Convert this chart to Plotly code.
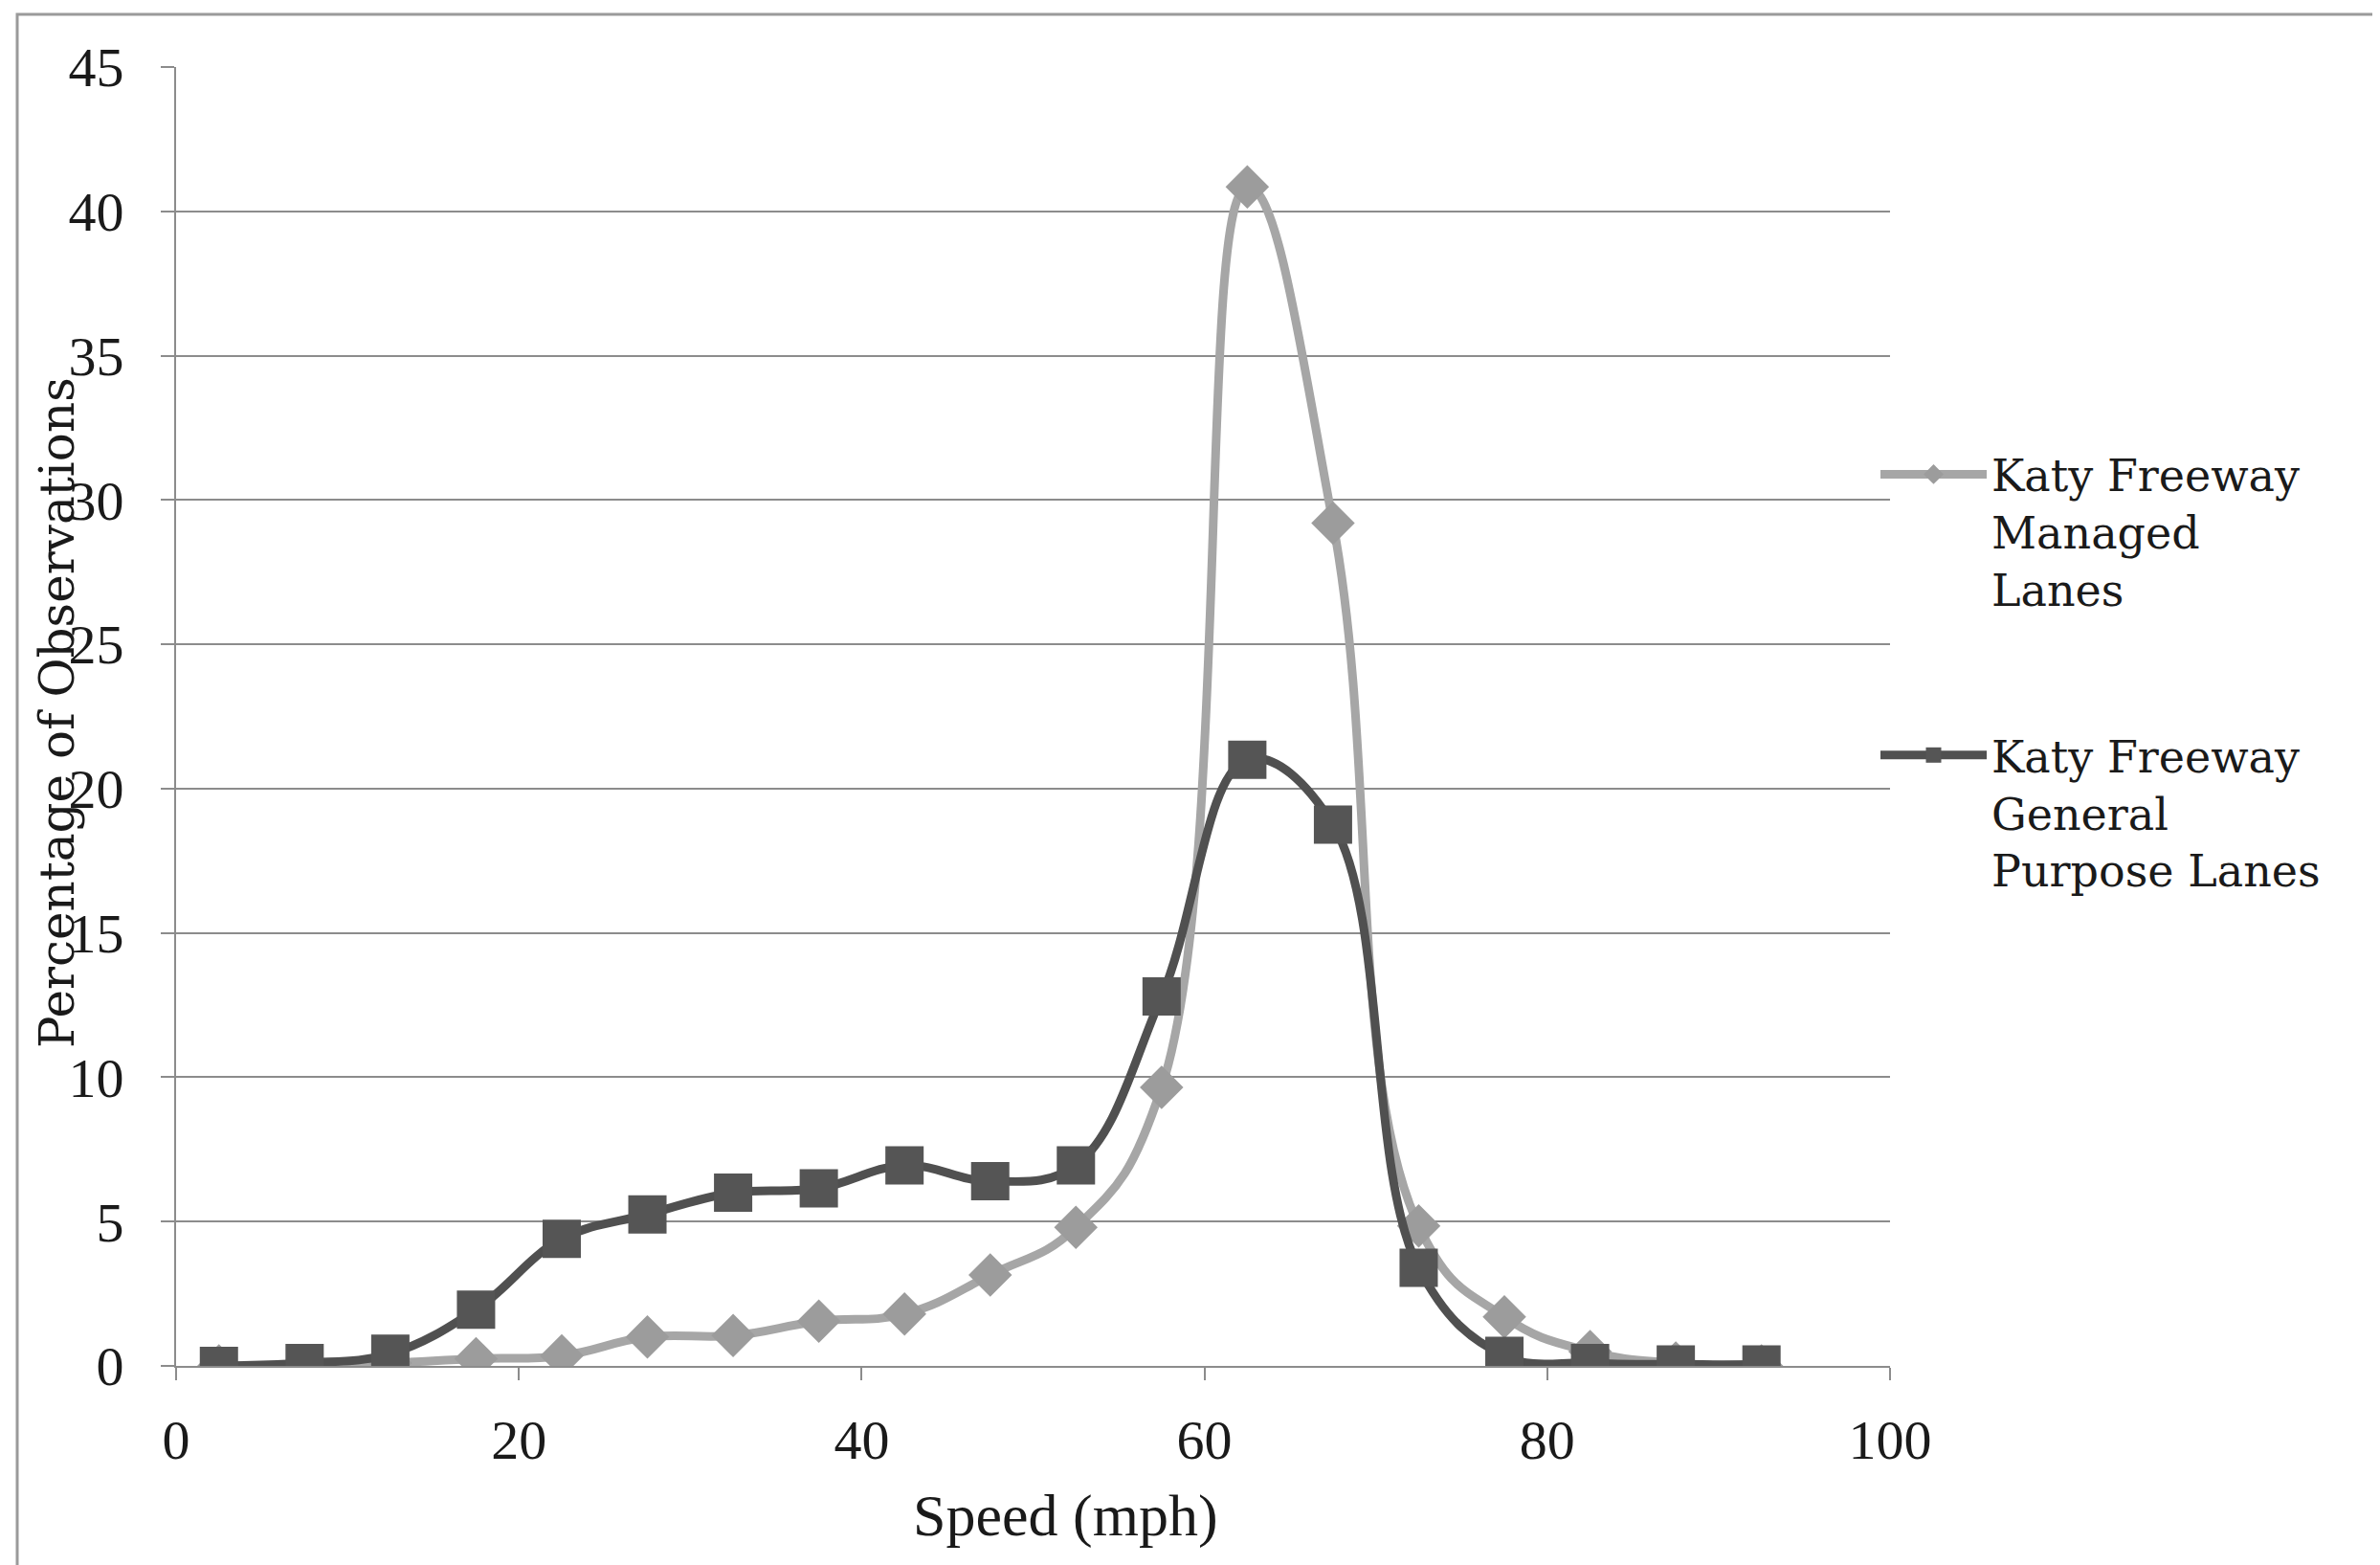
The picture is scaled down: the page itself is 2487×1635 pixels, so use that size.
import plotly.graph_objects as go

speed = [2.5, 7.5, 12.5, 17.5, 22.5, 27.5, 32.5, 37.5, 42.5, 47.5,
         52.5, 57.5, 62.5, 67.5, 72.5, 77.5, 82.5, 87.5, 92.5]
managed = [0.0, 0.0, 0.1, 0.25, 0.35, 1.0, 1.05, 1.55, 1.8, 3.15,
           4.8, 9.65, 40.85, 29.2, 4.85, 1.7, 0.5, 0.1, 0.0]
general = [0.0, 0.1, 0.42, 1.95, 4.4, 5.25, 6.0, 6.15, 6.95, 6.4,
           6.95, 12.8, 21.0, 18.75, 3.4, 0.35, 0.1, 0.05, 0.05]

names = ["Katy Freeway<br>Managed<br>Lanes",
         "Katy Freeway<br>General<br>Purpose Lanes"]
x_title = "Speed (mph)"
y_title = "Percentage of Observations"
x_ticks = [0, 20, 40, 60, 80, 100]
y_ticks = [0, 5, 10, 15, 20, 25, 30, 35, 40, 45]

OFF = 8  # page body margin
W, H = 2487 - OFF, 1635 - OFF
L, R, T, B = 184 - OFF, 1975 - OFF, 70 - OFF, 1427 - OFF  # plot area


def px(xp):
    return (xp - OFF - L) / (R - L)


def py(yp):
    return (B - (yp - OFF)) / (B - T)


grid_col = "#8c8c8c"
serif = "Liberation Serif"

fig = go.Figure()
fig.add_trace(go.Scatter(
    x=speed, y=managed, name=names[0], mode="lines+markers",
    line=dict(color="#a6a6a6", width=9, shape="spline", smoothing=1.25),
    marker=dict(symbol="diamond", size=35, color="#9c9c9c"),
    legendgroup="m",
))
fig.add_trace(go.Scatter(
    x=speed, y=general, name=names[1], mode="lines+markers",
    line=dict(color="#505050", width=9, shape="spline", smoothing=1.1),
    marker=dict(symbol="square", size=40, color="#555555"),
    legendgroup="g",
))

fig.update_layout(
    width=W, height=H,
    paper_bgcolor="white", plot_bgcolor="white",
    margin=dict(l=L, r=W - R, t=T, b=H - B, autoexpand=False),
    font=dict(family=serif, color="#1a1a1a", size=58),
    showlegend=True,
    legend=dict(
        x=px(1960), y=py(459), xanchor="left", yanchor="top",
        font=dict(family="DejaVu Serif", size=46, color="#1a1a1a"),
        itemwidth=111, valign="top", tracegroupgap=111,
        bgcolor="rgba(0,0,0,0)",
    ),
    xaxis=dict(
        range=[0, 100], tickvals=x_ticks, ticktext=[str(v) for v in x_ticks],
        showgrid=False, zeroline=False,
        showline=True, linecolor=grid_col, linewidth=2,
        ticks="outside", ticklen=13, tickwidth=2, tickcolor=grid_col,
        ticklabelstandoff=12,
        tickfont=dict(family=serif, size=58, color="#1a1a1a"),
    ),
    yaxis=dict(
        range=[0, 45], tickvals=y_ticks, ticktext=[str(v) for v in y_ticks],
        showgrid=True, gridcolor=grid_col, gridwidth=2, zeroline=False,
        showline=True, linecolor=grid_col, linewidth=2,
        ticks="outside", ticklen=14, tickwidth=2, tickcolor=grid_col,
        ticklabelstandoff=27,
        tickfont=dict(family=serif, size=58, color="#1a1a1a"),
    ),
    annotations=[
        dict(text=y_title, xref="paper", yref="paper", x=px(60), y=py(745),
             xanchor="center", yanchor="middle", textangle=-90, showarrow=False,
             font=dict(family="DejaVu Serif", size=50, color="#1a1a1a")),
        dict(text=x_title, xref="paper", yref="paper", x=px(1113), y=py(1583),
             xanchor="center", yanchor="middle", showarrow=False,
             font=dict(family=serif, size=62, color="#1a1a1a")),
    ],
    shapes=[
        dict(type="rect", xref="paper", yref="paper",
             x0=px(18), x1=px(2481), y0=py(1660), y1=py(15),
             line=dict(color="#9a9a9a", width=3), fillcolor="rgba(0,0,0,0)",
             layer="below"),
    ],
)

fig.write_html("out.html")
